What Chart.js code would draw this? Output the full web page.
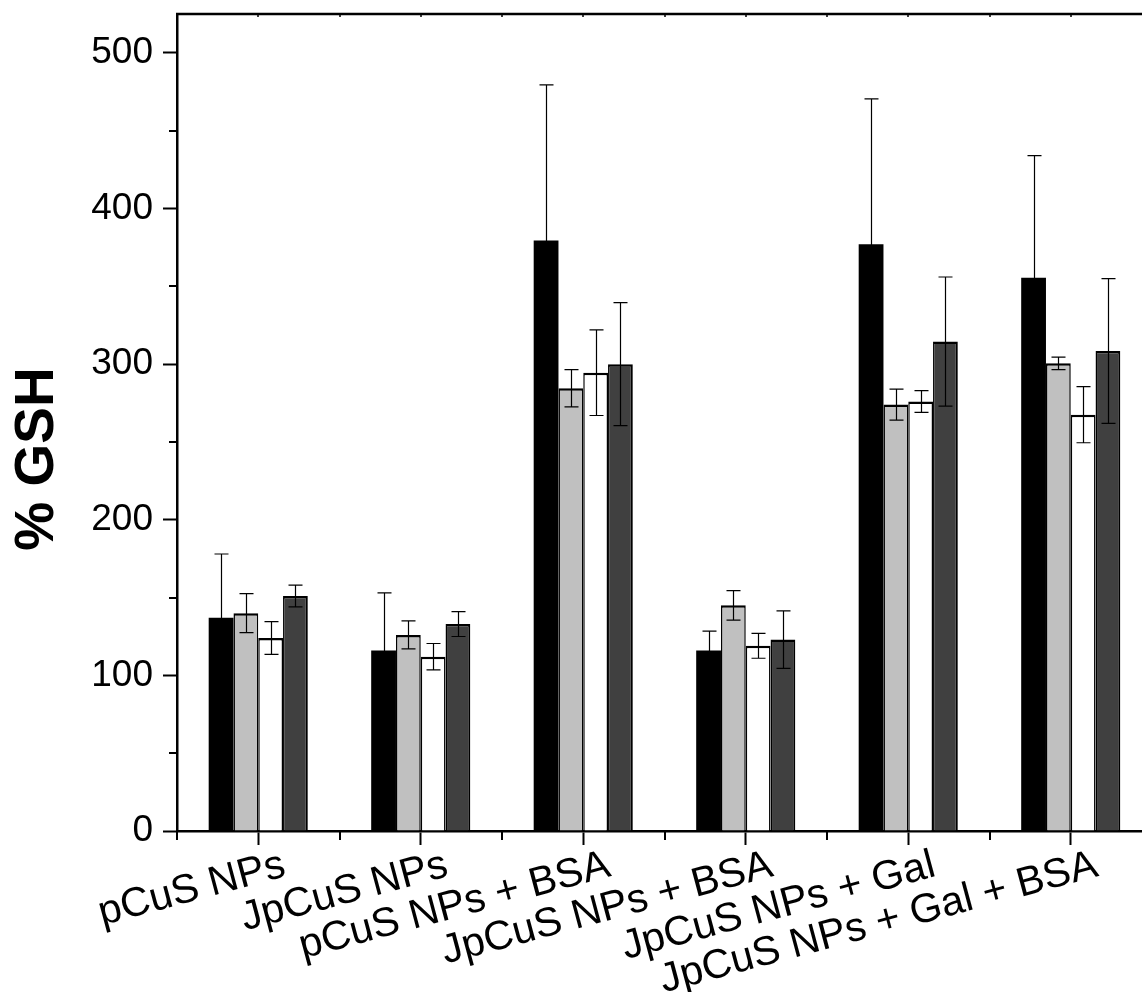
<!DOCTYPE html>
<html>
<head>
<meta charset="utf-8">
<script src="https://cdn.jsdelivr.net/npm/chart.js@4.4.1/dist/chart.umd.min.js"></script>
<style>
  html, body { margin: 0; padding: 0; background: #fff; overflow: hidden; }
  #wrap { width: 1160px; height: 992px; }
</style>
</head>
<body>
<div id="wrap"><canvas id="gshChart" width="1160" height="992"></canvas></div>
<script>
// === Data ===
const categories = [
  "pCuS NPs",
  "JpCuS NPs",
  "pCuS NPs + BSA",
  "JpCuS NPs + BSA",
  "JpCuS NPs + Gal",
  "JpCuS NPs + Gal + BSA"
];
const blackVals = [137, 116, 379.5, 116, 377, 355.5];
const blackErr  = [41, 37, 100, 12.5, 93.5, 78.5];
const grayVals  = [140, 126, 284.5, 145, 274, 300.5];
const grayErr   = [12.5, 9, 12, 9.5, 10, 4];
const whiteVals = [124, 112, 294.5, 119, 276, 267.5];
const whiteErr  = [10.5, 8.5, 27.5, 8, 7, 18];
const darkVals  = [151, 133, 300, 123, 314.5, 308.5];
const darkErr   = [7, 8, 39.5, 18.5, 41.5, 46.5];
const yTicks = [0, 100, 200, 300, 400, 500];
const yMinorTicks = [50, 150, 250, 350, 450];
const yTitle = "% GSH";

const FONT = "'Liberation Sans', Arial, Helvetica, sans-serif";

// === Error bars ===
const errorBars = {
  id: "errorBars",
  afterDatasetsDraw(chart) {
    const { ctx, scales: { y } } = chart;
    ctx.save();
    ctx.strokeStyle = "#000";
    ctx.lineWidth = 1.2;
    chart.data.datasets.forEach((ds, i) => {
      const meta = chart.getDatasetMeta(i);
      meta.data.forEach((bar, j) => {
        const v = ds.data[j], e = ds.errors[j];
        const top = y.getPixelForValue(v + e);
        const bot = y.getPixelForValue(v - e);
        const x = Math.round(bar.x) + 0.5;
        ctx.beginPath();
        ctx.moveTo(x, top); ctx.lineTo(x, bot);
        ctx.moveTo(x - 7, top); ctx.lineTo(x + 7, top);
        ctx.moveTo(x - 7, bot); ctx.lineTo(x + 7, bot);
        ctx.stroke();
      });
    });
    ctx.restore();
  }
};

// === Frame, minor ticks and y title ===
const frameTicks = {
  id: "frameTicks",
  afterDraw(chart) {
    const { ctx, chartArea: a, scales: { x, y } } = chart;
    ctx.save();
    ctx.strokeStyle = "#000";
    ctx.lineWidth = 2.5;
    ctx.beginPath();
    ctx.moveTo(a.left - 1, a.top); ctx.lineTo(a.right, a.top);
    ctx.moveTo(a.right, a.top); ctx.lineTo(a.right, a.bottom);
    ctx.stroke();

    ctx.lineWidth = 2;
    ctx.beginPath();
    yMinorTicks.forEach(v => {
      const py = Math.round(y.getPixelForValue(v));
      ctx.moveTo(a.left - 8, py); ctx.lineTo(a.left, py);
    });
    for (let i = 0; i <= categories.length; i++) {
      const px = Math.round(x.getPixelForValue(i - 0.5));
      ctx.moveTo(px, a.bottom); ctx.lineTo(px, a.bottom + 9);
    }
    ctx.stroke();

    // tiny inward ticks on the top frame
    ctx.lineWidth = 1.5;
    ctx.beginPath();
    for (let i = 0; i <= categories.length; i++) {
      const pm = Math.round(x.getPixelForValue(i - 0.5));
      ctx.moveTo(pm, a.top); ctx.lineTo(pm, a.top + 3);
      if (i < categories.length) {
        const pc = Math.round(x.getPixelForValue(i));
        ctx.moveTo(pc, a.top); ctx.lineTo(pc, a.top + 3);
      }
    }
    ctx.stroke();

    // y axis title, sits a bit below the middle like the original
    ctx.translate(38, 459);
    ctx.rotate(-Math.PI / 2);
    ctx.fillStyle = "#000";
    ctx.font = "bold 55px " + FONT;
    ctx.textAlign = "center";
    ctx.textBaseline = "middle";
    ctx.fillText(yTitle, 0, 0);
    ctx.restore();
  }
};

// === Chart setup ===
const barBorder = { top: 2.5, left: 1.5, right: 1.5, bottom: 0 };
const ctx = document.getElementById("gshChart").getContext("2d");
const gshChart = new Chart(ctx, {
  type: "bar",
  data: {
    labels: categories,
    datasets: [
      { label: "Series 1", data: blackVals, errors: blackErr, backgroundColor: "#000000", borderColor: "#000", borderWidth: 0 },
      { label: "Series 2", data: grayVals, errors: grayErr, backgroundColor: "#c0c0c0", borderColor: "#000", borderWidth: barBorder },
      { label: "Series 3", data: whiteVals, errors: whiteErr, backgroundColor: "#ffffff", borderColor: "#000", borderWidth: barBorder },
      { label: "Series 4", data: darkVals, errors: darkErr, backgroundColor: "#404040", borderColor: "#000", borderWidth: { top: 2.5, left: 1.5, right: 2, bottom: 0 } }
    ]
  },
  options: {
    responsive: false,
    animation: false,
    devicePixelRatio: 1,
    layout: { padding: { left: 0, top: 14, right: 8, bottom: 0 } },
    datasets: { bar: { categoryPercentage: 0.61, barPercentage: 1.0, borderSkipped: "bottom" } },
    plugins: {
      legend: { display: false },
      tooltip: { enabled: false }
    },
    scales: {
      x: {
        offset: true,
        grid: { display: true, offset: false, drawOnChartArea: false, drawTicks: true, tickLength: 14, tickWidth: 2, tickColor: "#000" },
        border: { display: true, color: "#000", width: 2.5 },
        ticks: {
          autoSkip: false, maxRotation: 15, minRotation: 15,
          color: "#000", padding: -4, labelOffset: 26,
          font: { family: FONT, size: 41 }
        },
        afterFit(scale) {
          scale.height = 161;
          scale.paddingLeft = 0; scale.paddingRight = 0;
        }
      },
      y: {
        min: 0, max: 525,
        grid: { display: true, drawOnChartArea: false, drawTicks: true, tickLength: 14, tickWidth: 2, tickColor: "#000" },
        border: { display: true, color: "#000", width: 2.5 },
        ticks: {
          stepSize: 100, includeBounds: false, color: "#000", padding: 10,
          font: { family: FONT, size: 37 },
          callback: v => (yTicks.includes(v) ? String(v) : "")
        },
        title: { display: false },
        afterFit(scale) {
          scale.width = 177;
          scale.paddingTop = 0; scale.paddingBottom = 0;
        }
      }
    }
  },
  plugins: [errorBars, frameTicks]
});
</script>
</body>
</html>
